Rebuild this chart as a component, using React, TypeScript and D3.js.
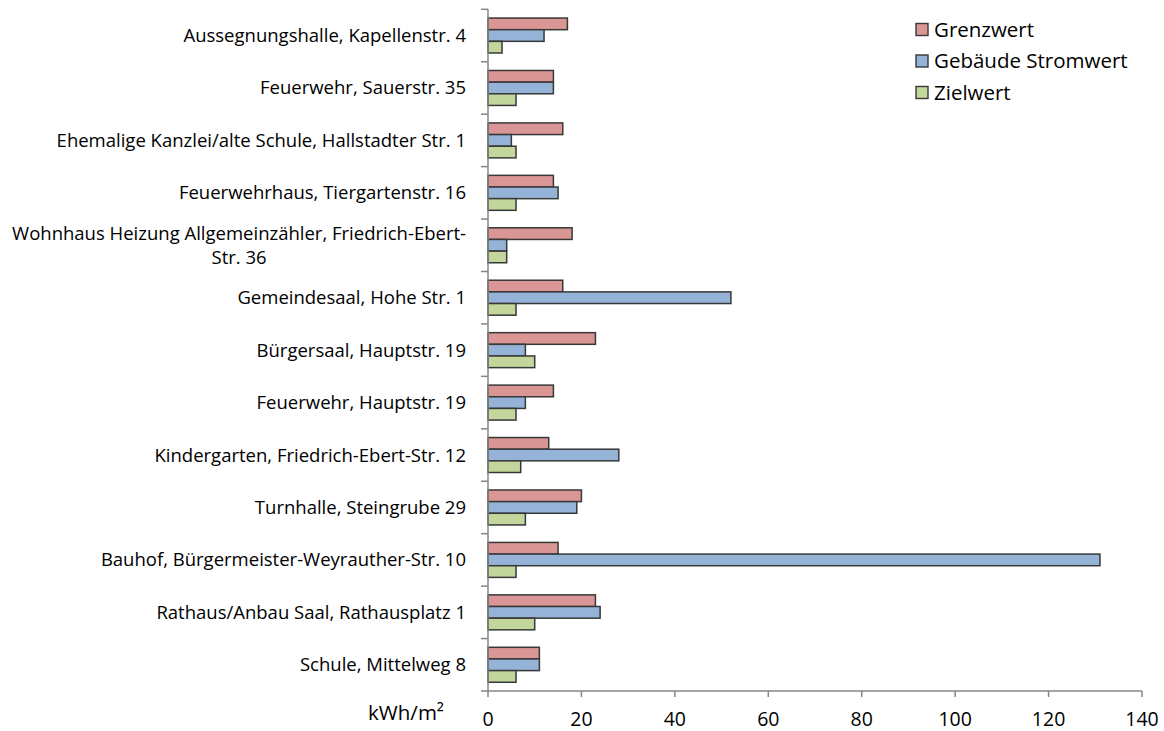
import React, { useRef, useEffect } from 'react';
import * as d3 from 'd3';

// categories top to bottom
const categories = [
  'Aussegnungshalle, Kapellenstr. 4',
  'Feuerwehr, Sauerstr. 35',
  'Ehemalige Kanzlei/alte Schule, Hallstadter Str. 1',
  'Feuerwehrhaus, Tiergartenstr. 16',
  'Wohnhaus Heizung Allgemeinzähler, Friedrich-Ebert-Str. 36',
  'Gemeindesaal, Hohe Str. 1',
  'Bürgersaal, Hauptstr. 19',
  'Feuerwehr, Hauptstr. 19',
  'Kindergarten, Friedrich-Ebert-Str. 12',
  'Turnhalle, Steingrube 29',
  'Bauhof, Bürgermeister-Weyrauther-Str. 10',
  'Rathaus/Anbau Saal, Rathausplatz 1',
  'Schule, Mittelweg 8',
];

const seriesNames = ['Grenzwert', 'Gebäude Stromwert', 'Zielwert'];
const grenzwert = [17, 14, 16, 14, 18, 16, 23, 14, 13, 20, 15, 23, 11];
const stromwert = [12, 14, 5, 15, 4, 52, 8, 8, 28, 19, 131, 24, 11];
const zielwert = [3, 6, 6, 6, 4, 6, 10, 6, 7, 8, 6, 10, 6];
const xTicks = [0, 20, 40, 60, 80, 100, 120, 140];
const unitLabel = 'kWh/m²';

const colors = ['#D99694', '#95B3D7', '#C3D69B'];
const FONT = '"Open Sans", sans-serif';

const wrapLabel = (s: string, max = 50) => {
  if (s.length <= max) return [s];
  const head = s.slice(0, max + 1);
  const cut = Math.max(head.lastIndexOf('-'), head.lastIndexOf(' '));
  return [s.slice(0, cut + 1).trim(), s.slice(cut + 1).trim()];
};

const Chart = () => {
  const svgRef = useRef<SVGSVGElement>(null);

  useEffect(() => {
    const svg = d3.select(svgRef.current);
    svg.selectAll('*').remove();

    const left = 488, right = 1142, top = 9.3, bottom = 691;
    const axisColor = '#868686';

    const x = d3.scaleLinear().domain([0, 140]).range([left, right]);
    const y = d3.scaleBand<number>()
      .domain(d3.range(categories.length))
      .range([top, bottom]);
    const ys = d3.scaleBand<number>()
      .domain([0, 1, 2])
      .range([0, y.bandwidth()])
      .paddingOuter(0.75);

    const series = [grenzwert, stromwert, zielwert];

    // bars
    series.forEach((vals, si) => {
      svg.append('g')
        .selectAll('rect')
        .data(vals)
        .join('rect')
        .attr('x', x(0))
        .attr('y', (d, i) => (y(i) as number) + (ys(si) as number))
        .attr('width', d => x(d) - x(0))
        .attr('height', ys.bandwidth())
        .attr('fill', colors[si])
        .attr('stroke', '#383838')
        .attr('stroke-width', 1.5);
    });

    // y axis
    svg.append('line')
      .attr('x1', left).attr('x2', left)
      .attr('y1', top).attr('y2', bottom)
      .attr('stroke', axisColor).attr('stroke-width', 1.5);
    svg.append('g')
      .selectAll('line')
      .data(d3.range(categories.length + 1))
      .join('line')
      .attr('x1', left - 7).attr('x2', left)
      .attr('y1', i => top + i * y.step())
      .attr('y2', i => top + i * y.step())
      .attr('stroke', axisColor).attr('stroke-width', 1.5);

    // x axis
    svg.append('line')
      .attr('x1', left).attr('x2', right)
      .attr('y1', bottom).attr('y2', bottom)
      .attr('stroke', axisColor).attr('stroke-width', 1.5);
    svg.append('g')
      .selectAll('line')
      .data(xTicks)
      .join('line')
      .attr('x1', d => x(d)).attr('x2', d => x(d))
      .attr('y1', bottom).attr('y2', bottom + 6)
      .attr('stroke', axisColor).attr('stroke-width', 1.5);
    svg.append('g')
      .selectAll('text')
      .data(xTicks)
      .join('text')
      .attr('x', d => x(d))
      .attr('y', 726)
      .attr('text-anchor', 'middle')
      .style('font-family', FONT)
      .style('font-size', '19.5px')
      .attr('fill', '#000')
      .text(d => d);
    svg.append('text')
      .attr('x', 444).attr('y', 720)
      .attr('text-anchor', 'end')
      .style('font-family', FONT)
      .style('font-size', '20.5px')
      .text(unitLabel);

    // category labels
    const labelX = 466;
    categories.forEach((c, i) => {
      const lines = wrapLabel(c);
      const cy = (y(i) as number) + y.bandwidth() / 2;
      const lh = 24;
      const g = svg.append('g');
      const texts = lines.map((ln, li) => g.append('text')
        .attr('y', cy + (li - (lines.length - 1) / 2) * lh)
        .attr('dy', '0.35em')
        .style('font-family', FONT)
        .style('font-size', '18.5px')
        .attr('fill', '#000')
        .text(ln));
      const widths = texts.map(t => (t.node() as SVGTextElement).getComputedTextLength());
      const maxW = d3.max(widths) as number;
      texts.forEach(t => t.attr('x', labelX - maxW / 2).attr('text-anchor', 'middle'));
    });

    // legend
    seriesNames.forEach((s, i) => {
      const ly = 29.5 + i * 31.5;
      svg.append('rect')
        .attr('x', 916).attr('y', ly - 6)
        .attr('width', 12).attr('height', 12)
        .attr('fill', colors[i])
        .attr('stroke', '#383838').attr('stroke-width', 1.4);
      svg.append('text')
        .attr('x', 934).attr('y', ly)
        .attr('dy', '0.35em')
        .style('font-family', FONT)
        .style('font-size', '20.5px')
        .text(s);
    });
  }, []);

  return <svg ref={svgRef} width={1164} height={731}
    style={{ position: 'absolute', left: 0, top: 0, background: '#fff' }} />;
};

export default function App() {
  return <Chart />;
}
